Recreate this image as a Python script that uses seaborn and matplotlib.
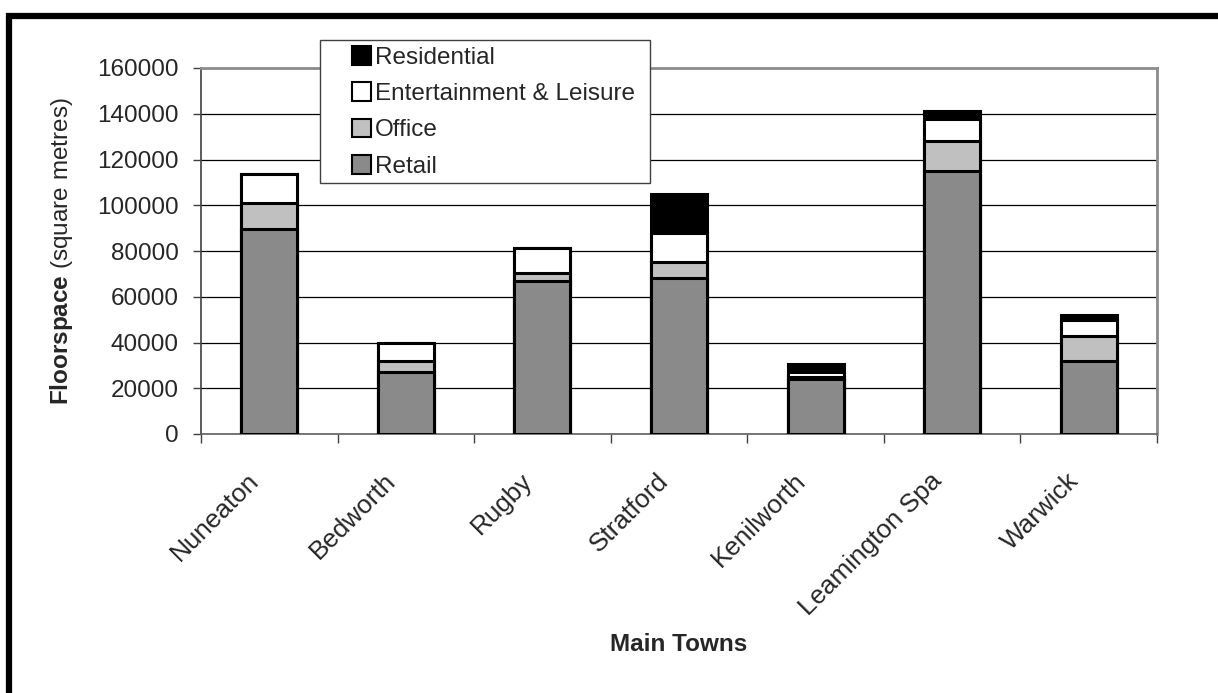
import numpy as np
import matplotlib
matplotlib.use("Agg")
import matplotlib.pyplot as plt
import matplotlib.transforms as mtransforms
from matplotlib.patches import Patch, Rectangle
from matplotlib.lines import Line2D
from matplotlib.ticker import FixedLocator
import seaborn as sns

# Floorspace by use class for the main towns (square metres)
towns = ["Nuneaton", "Bedworth", "Rugby", "Stratford", "Kenilworth",
         "Leamington Spa", "Warwick"]
retail = [89500, 27000, 67000, 68000, 24000, 115000, 32000]
office = [11500, 5000, 3500, 7000, 1000, 13000, 11000]
leisure = [12500, 8000, 11000, 13000, 2000, 9500, 7000]
residential = [0, 0, 0, 17000, 3500, 3500, 2000]

y_ticks = [0, 20000, 40000, 60000, 80000, 100000, 120000, 140000, 160000]

FS = 17.5

sns.set_theme(style="white")
plt.rcParams["font.family"] = ["Liberation Sans", "DejaVu Sans"]
plt.rcParams["mathtext.fontset"] = "custom"
plt.rcParams["mathtext.rm"] = "Liberation Sans"
plt.rcParams["mathtext.bf"] = "Liberation Sans:bold"

fig = plt.figure(figsize=(12.18, 6.93), dpi=100)
ax = fig.add_axes([201 / 1218, 1 - 434 / 693, 956 / 1218, 366 / 693])

layers = [
    ("Residential", residential, "#000000"),
    ("Entertainment & Leisure", leisure, "#ffffff"),
    ("Office", office, "#c0c0c0"),
    ("Retail", retail, "#8a8a8a"),
]

# stack: draw cumulative totals from the top layer down so each lower
# segment is painted over the one above it
stack = np.vstack([retail, office, leisure, residential])
cum = np.cumsum(stack, axis=0)  # retail, +office, +leisure, +residential
tops = [cum[3], cum[2], cum[1], cum[0]]
for (name, _, col), top in zip(layers, tops):
    sns.barplot(x=towns, y=top, ax=ax, color=col, saturation=1,
                edgecolor="black", linewidth=2.2, width=0.41, zorder=3)

ax.set_ylim(0, 160000)
ax.set_xlim(-0.5, len(towns) - 0.5)
ax.set_yticks(y_ticks)
ax.set_yticklabels([str(v) for v in y_ticks], fontsize=FS)
ax.yaxis.grid(True, color="black", linewidth=0.9)
ax.set_axisbelow(True)

# category boundary ticks on the x axis, labels at the centres
ax.xaxis.set_minor_locator(FixedLocator(np.arange(-0.5, len(towns), 1.0)))
ax.tick_params(axis="x", which="minor", bottom=True, length=6.5, width=1,
               color="#404040", direction="out")
ax.tick_params(axis="x", which="major", bottom=True, length=0, pad=31)
ax.tick_params(axis="y", which="major", left=True, length=6, width=1,
               color="#404040", direction="out", pad=10)
ax.set_xticks(range(len(towns)))
ax.set_xticklabels(towns, rotation=45, ha="right", va="center",
                   rotation_mode="anchor", fontsize=18.8)
offset = mtransforms.ScaledTranslation(-14 / 100, 0, fig.dpi_scale_trans)
for lab in ax.get_xticklabels():
    lab.set_transform(lab.get_transform() + offset)

for side in ["top", "right"]:
    ax.spines[side].set_color("#8c8c8c")
    ax.spines[side].set_linewidth(2)
ax.spines["left"].set_color("#404040")
ax.spines["left"].set_linewidth(1.2)
ax.spines["bottom"].set_color("#606060")
ax.spines["bottom"].set_linewidth(1.2)

ax.set_ylabel(r"$\bf{Floorspace}$ (square metres)", fontsize=FS)
ax.yaxis.set_label_coords(-0.132, 0.5)
ax.set_xlabel("Main Towns", fontsize=FS, fontweight="bold")
ax.xaxis.set_label_coords(0.5, -0.544)

# legend box sits above the plot, overlapping its top edge
fig.add_artist(Rectangle((320 / 1218, 1 - 183 / 693), 330 / 1218, 143 / 693,
                         transform=fig.transFigure, facecolor="white",
                         edgecolor="#404040", linewidth=1, zorder=9))
handles = [Patch(facecolor=col, edgecolor="black", linewidth=1.5, label=name)
           for name, _, col in layers]
leg = fig.legend(handles=handles, loc="upper left",
                 bbox_to_anchor=(352 / 1218, 1 - 46 / 693),
                 fontsize=FS, frameon=False, borderpad=0, labelspacing=0.56,
                 handlelength=0.8, handleheight=0.8, handletextpad=0.15,
                 borderaxespad=0)
leg.set_zorder(10)

# heavy frame along the top and left of the chart
fig.add_artist(Line2D([6 / 1218, 1], [1 - 16 / 693, 1 - 16 / 693],
                      color="black", linewidth=4.5,
                      transform=fig.transFigure, solid_capstyle="butt"))
fig.add_artist(Line2D([9 / 1218, 9 / 1218], [0, 1 - 13 / 693],
                      color="black", linewidth=4.5,
                      transform=fig.transFigure, solid_capstyle="butt"))

fig.savefig("out.png", dpi=100, facecolor="white")
